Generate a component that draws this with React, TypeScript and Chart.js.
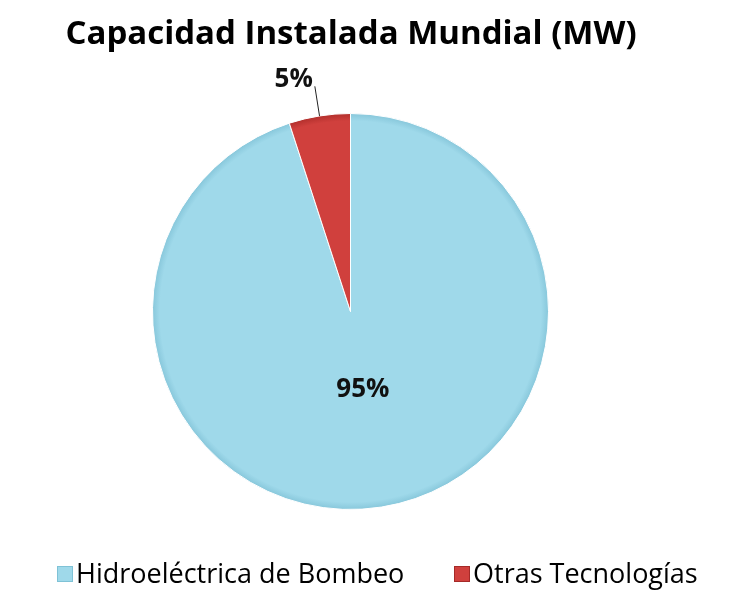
import React, { useEffect, useRef } from "react";
import { Chart, registerables } from "chart.js";

Chart.register(...registerables);

const TITLE = "Capacidad Instalada Mundial (MW)";
const CATEGORIES = ["Hidroeléctrica de Bombeo", "Otras Tecnologías"];
const VALUES = [95, 5];
const PERCENT_LABELS = ["95%", "5%"];
const COLORS = ["#9FD9EA", "#D0403D"];
const RIM_COLORS = ["#86C6DA", "#B02E2B"];
const EDGE_COLORS = ["#7FC2D6", "#A52A28"];
const LEGEND_X = [57, 454];

const FONT = "'Open Sans', Lato, sans-serif";

function fillFor(ctx: any) {
  const chart = ctx.chart;
  const i = ctx.dataIndex;
  const area = chart.chartArea;
  if (!area) return COLORS[i];
  const cx = (area.left + area.right) / 2;
  const cy = (area.top + area.bottom) / 2;
  const r = Math.min(area.right - area.left, area.bottom - area.top) / 2;
  const g = chart.ctx.createRadialGradient(cx, cy, 0, cx, cy, r);
  g.addColorStop(0, COLORS[i]);
  g.addColorStop(0.96, COLORS[i]);
  g.addColorStop(1, RIM_COLORS[i]);
  return g;
}

const overlayPlugin = {
  id: "overlay",
  afterDraw(chart: any) {
    const ctx = chart.ctx as CanvasRenderingContext2D;
    const meta = chart.getDatasetMeta(0);
    ctx.save();
    // title
    ctx.fillStyle = "#000000";
    ctx.font = `bold 33px ${FONT}`;
    ctx.textAlign = "center";
    ctx.textBaseline = "alphabetic";
    ctx.fillText(TITLE, 351, 44);

    // data labels
    meta.data.forEach((arc: any, i: number) => {
      const p = arc.getProps(["x", "y", "startAngle", "endAngle", "outerRadius"], true);
      const mid = (p.startAngle + p.endAngle) / 2;
      const cos = Math.cos(mid);
      const sin = Math.sin(mid);
      ctx.font = `bold 26px ${FONT}`;
      ctx.fillStyle = "#111111";
      if (i === 0) {
        const r = p.outerRadius * 0.4;
        ctx.textAlign = "center";
        ctx.textBaseline = "middle";
        ctx.fillText(PERCENT_LABELS[i], p.x + cos * r, p.y + sin * r);
      } else {
        const sx = p.x + cos * p.outerRadius;
        const sy = p.y + sin * p.outerRadius;
        const ex = p.x + cos * (p.outerRadius + 30);
        const ey = p.y + sin * (p.outerRadius + 30);
        ctx.strokeStyle = "#222222";
        ctx.lineWidth = 1;
        ctx.beginPath();
        ctx.moveTo(sx, sy);
        ctx.lineTo(ex, ey);
        ctx.stroke();
        ctx.textAlign = "right";
        ctx.textBaseline = "alphabetic";
        ctx.fillText(PERCENT_LABELS[i], ex - 2, ey + 1);
      }
    });

    // legend
    ctx.font = `27px ${FONT}`;
    ctx.textAlign = "left";
    ctx.textBaseline = "alphabetic";
    const y = 574;
    CATEGORIES.forEach((label, i) => {
      const x = LEGEND_X[i];
      ctx.fillStyle = COLORS[i];
      ctx.fillRect(x, y - 8, 16, 16);
      ctx.strokeStyle = EDGE_COLORS[i];
      ctx.lineWidth = 1;
      ctx.strokeRect(x + 0.5, y - 7.5, 15, 15);
      ctx.fillStyle = "#000000";
      ctx.fillText(label, x + 19, 583);
    });
    ctx.restore();
  },
};

export default function App() {
  const ref = useRef<HTMLCanvasElement>(null);
  useEffect(() => {
    document.body.style.margin = "0";
    const canvas = ref.current!;
    const chart = new Chart(canvas, {
      type: "pie",
      data: {
        labels: CATEGORIES,
        datasets: [
          {
            data: VALUES,
            backgroundColor: fillFor,
            borderColor: "#FFFFFF",
            borderWidth: 1,
          },
        ],
      },
      options: {
        responsive: false,
        animation: false,
        layout: { padding: { top: 113, bottom: 90, left: 152, right: 188 } },
        plugins: {
          legend: { display: false },
          title: { display: false },
          tooltip: { enabled: false },
        },
      },
      plugins: [overlayPlugin],
    });
    return () => chart.destroy();
  }, []);
  return (
    <div style={{ width: 737, height: 600, background: "#FFFFFF" }}>
      <canvas ref={ref} width={737} height={600} />
    </div>
  );
}
